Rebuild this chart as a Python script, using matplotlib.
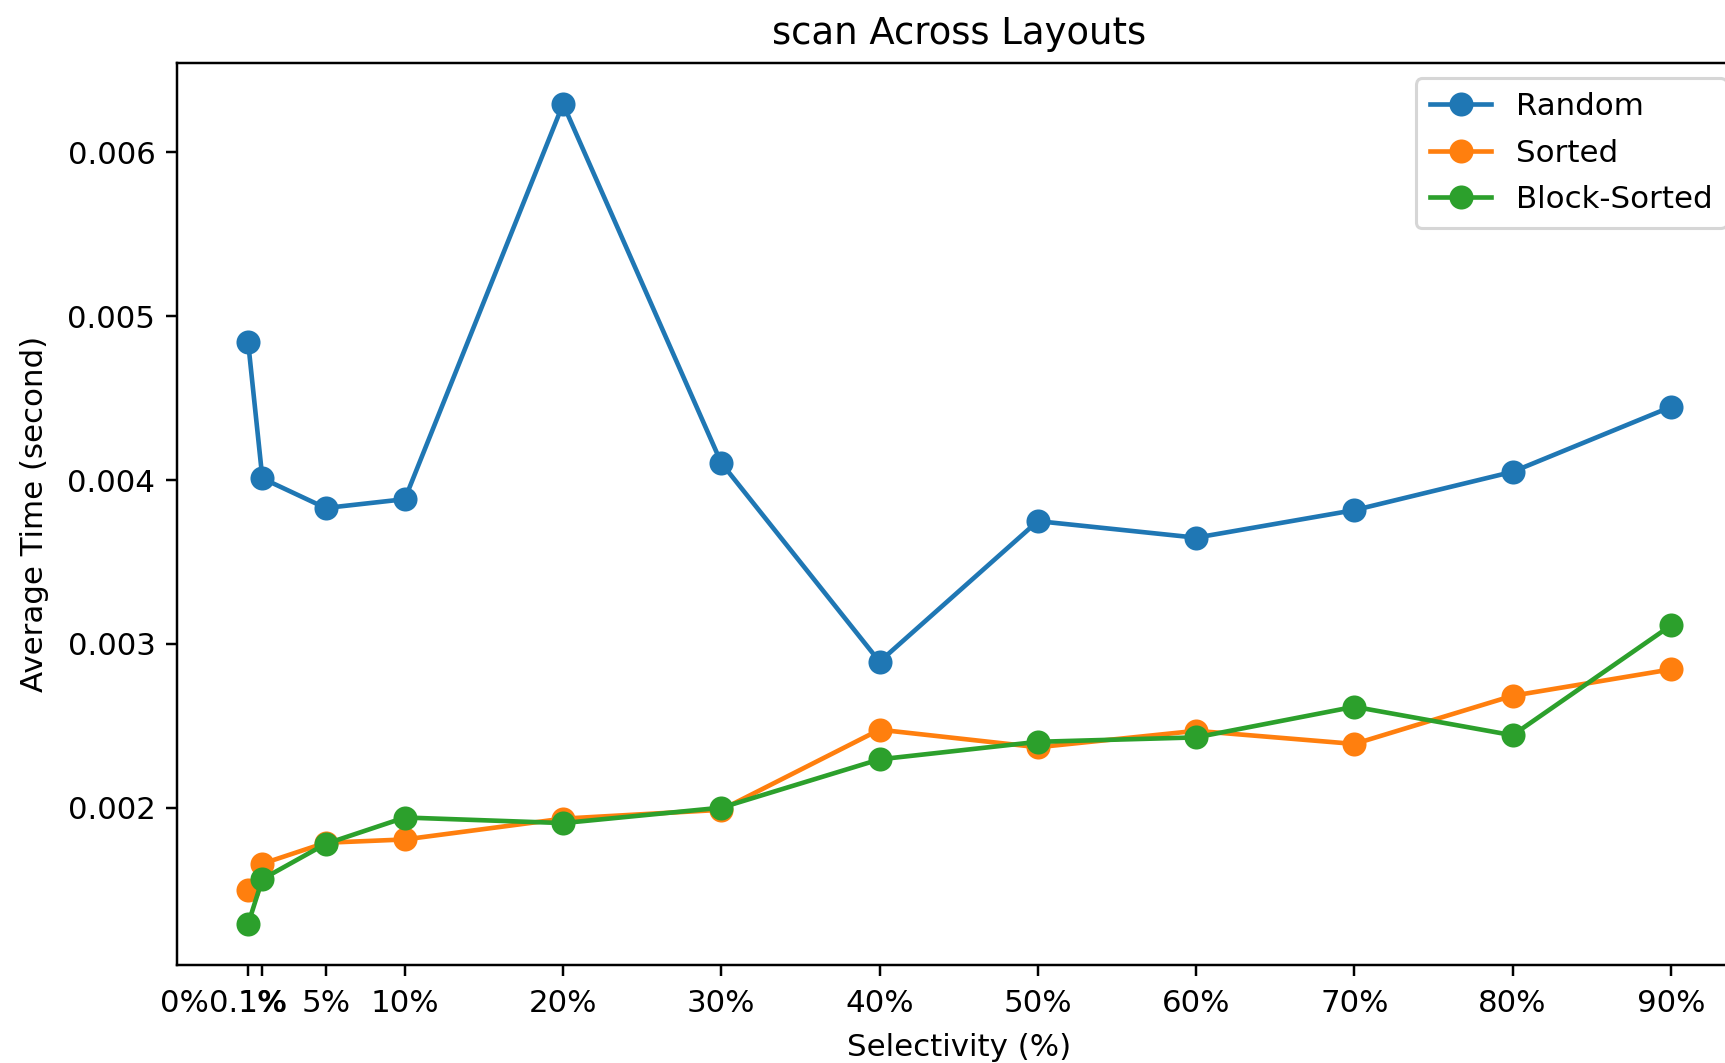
import matplotlib
matplotlib.use("Agg")
import matplotlib.pyplot as plt

selectivity = [0.1, 1, 5, 10, 20, 30, 40, 50, 60, 70, 80, 90]
tick_labels = ["0.1%", "1%", "5%", "10%", "20%", "30%", "40%", "50%", "60%", "70%", "80%", "90%"]

random_t = [0.004841, 0.004010, 0.003829, 0.003883, 0.006295, 0.004104,
            0.002891, 0.003749, 0.003648, 0.003816, 0.004050, 0.004446]
sorted_t = [0.001497, 0.001658, 0.001786, 0.001806, 0.001933, 0.001987,
            0.002476, 0.002369, 0.002469, 0.002389, 0.002683, 0.002844]
block_t = [0.001290, 0.001564, 0.001779, 0.001940, 0.001906, 0.002000,
           0.002295, 0.002402, 0.002429, 0.002616, 0.002442, 0.003112]

dpi = 222
fig = plt.figure(figsize=(1725 / dpi, 1063 / dpi), dpi=dpi)
ax = fig.add_axes([177 / 1725, 1 - 965 / 1063, (1742 - 177) / 1725, (965 - 63) / 1063])

ax.plot(selectivity, random_t, marker="o", markersize=6.8, label="Random")
ax.plot(selectivity, sorted_t, marker="o", markersize=6.8, label="Sorted")
ax.plot(selectivity, block_t, marker="o", markersize=6.8, label="Block-Sorted")

ax.set_xticks(selectivity)
ax.set_xticklabels(tick_labels)
ax.set_xticks([-3.95], minor=True)
ax.set_xticklabels(["0%"], minor=True)
ax.tick_params(axis="x", which="major", pad=4.3)
ax.tick_params(axis="x", which="minor", length=0, pad=3.5 + 4.3)

ax.set_title("scan Across Layouts")
ax.set_xlabel("Selectivity (%)", labelpad=5)
ax.set_ylabel("Average Time (second)", labelpad=6)
ax.legend(loc="upper right", labelspacing=0.56, borderpad=0.45)

fig.savefig("out.png", dpi=dpi)
